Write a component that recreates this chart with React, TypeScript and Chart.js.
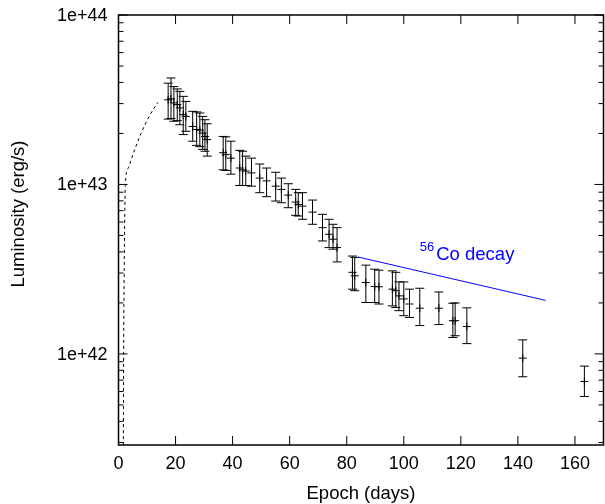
import React, { useEffect, useRef } from "react";
import { Chart, registerables } from "chart.js";

Chart.register(...registerables);

// ---- Data ----
const epoch = [
  17.4, 18.4, 19.4, 20.6, 21.5, 22.7, 23.6, 26.0, 27.4, 28.5, 29.5, 30.3, 31.1,
  36.7, 37.6, 39.4, 42.5, 43.5, 44.6, 46.6, 49.5, 51.9, 55.1, 57.1, 59.5, 62.1,
  63.0, 64.5, 68.0, 71.5, 73.8, 75.2, 76.6, 82.0, 82.8, 86.7, 89.8, 91.3, 96.0,
  97.2, 98.3, 100.0, 102.0, 105.6, 112.3, 117.2, 118.0, 122.1, 141.7, 163.3,
];
const lum = [
  3.16e43, 3.2e43, 3.03e43, 2.96e43, 2.83e43, 2.58e43, 2.52e43, 2.2e43, 2.11e43,
  2.09e43, 2.01e43, 1.92e43, 1.84e43, 1.54e43, 1.5e43, 1.43e43, 1.25e43, 1.22e43,
  1.2e43, 1.17e43, 1.09e43, 1.05e43, 9.77e42, 9.35e42, 8.65e42, 7.87e42, 7.62e42,
  7.45e42, 6.87e42, 5.56e42, 5.08e42, 4.75e42, 4.24e42, 3.03e42, 2.89e42, 2.64e42,
  2.5e42, 2.49e42, 2.41e42, 2.36e42, 2.2e42, 2.11e42, 1.97e42, 1.86e42, 1.86e42,
  1.57e42, 1.57e42, 1.45e42, 9.44e41, 6.87e41,
];
const lumLow = [
  2.43e43, 2.45e43, 2.36e43, 2.38e43, 2.25e43, 1.97e43, 2.06e43, 1.8e43, 1.7e43,
  1.67e43, 1.61e43, 1.57e43, 1.47e43, 1.22e43, 1.21e43, 1.15e43, 9.86e42, 9.86e42,
  9.86e42, 9.77e42, 8.94e42, 8.47e42, 7.98e42, 7.8e42, 7.29e42, 6.57e42, 6.51e42,
  6.23e42, 5.82e42, 4.64e42, 4.24e42, 4.15e42, 3.49e42, 2.41e42, 2.36e42, 2.01e42,
  2.01e42, 1.97e42, 1.92e42, 1.88e42, 1.8e42, 1.68e42, 1.64e42, 1.47e42, 1.49e42,
  1.25e42, 1.28e42, 1.15e42, 7.33e41, 5.61e41,
];
const lumHigh = [
  3.96e43, 4.25e43, 3.78e43, 3.66e43, 3.54e43, 3.31e43, 3.09e43, 2.7e43, 2.68e43,
  2.64e43, 2.52e43, 2.41e43, 2.28e43, 1.92e43, 1.91e43, 1.8e43, 1.59e43, 1.57e43,
  1.47e43, 1.43e43, 1.32e43, 1.25e43, 1.18e43, 1.09e43, 1.01e43, 9.35e42, 8.94e42,
  8.94e42, 8.09e42, 6.66e42, 6.23e42, 5.82e42, 5.56e42, 3.78e42, 3.71e42, 3.34e42,
  3.16e42, 3.12e42, 3.09e42, 3.03e42, 2.66e42, 2.66e42, 2.41e42, 2.44e42, 2.32e42,
  1.99e42, 2.0e42, 1.87e42, 1.21e42, 8.47e41,
];

// rising model curve (dashed)
const modelEpoch = [1.7, 1.8, 2.0, 2.4, 3.3, 5.4, 7.9, 10.9, 13.8];
const modelLum = [2.9e41, 1.0e42, 3.16e42, 1.0e43, 1.24e43, 1.56e43, 2.0e43, 2.55e43, 3.05e43];

// 56Co decay line
const coEpoch = [84.0, 149.7];
const coLum = [3.73e42, 2.07e42];
const coLabelEpoch = 105.6;
const coLabelLum = 3.57e42;

// axes
const xTicks = [0, 20, 40, 60, 80, 100, 120, 140, 160];
const yTicks = [1e42, 1e43, 1e44];
const yTickLabels = ["1e+42", "1e+43", "1e+44"];
const yMinorMult = [2, 3, 4, 5, 6, 7, 8, 9];
const xMin = 0;
const xMax = 170;
const yMin = 2.9e41;
const yMax = 1e44;

const FONT = "'Liberation Sans', Arial, Helvetica, sans-serif";

const overlay = {
  id: "overlay",
  beforeDatasetsDraw(chart: any) {
    const ctx = chart.ctx;
    const { left, right, top, bottom } = chart.chartArea;
    const xs = chart.scales.x;
    const ys = chart.scales.y;
    ctx.save();
    ctx.beginPath();
    ctx.rect(left, top, right - left, bottom - top);
    ctx.clip();
    ctx.strokeStyle = "#000";
    ctx.lineWidth = 1;
    ctx.beginPath();
    for (let i = 0; i < epoch.length; i++) {
      const px = xs.getPixelForValue(epoch[i]);
      const pl = ys.getPixelForValue(lumLow[i]);
      const ph = ys.getPixelForValue(lumHigh[i]);
      ctx.moveTo(px, pl);
      ctx.lineTo(px, ph);
      ctx.moveTo(px - 4.5, pl);
      ctx.lineTo(px + 4.5, pl);
      ctx.moveTo(px - 4.5, ph);
      ctx.lineTo(px + 4.5, ph);
    }
    ctx.stroke();
    ctx.restore();
  },
  afterDraw(chart: any) {
    const ctx = chart.ctx;
    const { left, right, top, bottom } = chart.chartArea;
    const xs = chart.scales.x;
    const ys = chart.scales.y;
    ctx.save();
    // ticks
    ctx.strokeStyle = "#000";
    ctx.lineWidth = 1;
    ctx.beginPath();
    xTicks.forEach((v) => {
      const px = xs.getPixelForValue(v);
      ctx.moveTo(px, bottom);
      ctx.lineTo(px, bottom - 9);
      ctx.moveTo(px, top);
      ctx.lineTo(px, top + 9);
    });
    for (let d = 41; d <= 44; d++) {
      const base = Math.pow(10, d);
      [1, ...yMinorMult].forEach((m) => {
        const v = m * base;
        if (v < yMin || v > yMax) return;
        const py = ys.getPixelForValue(v);
        const len = m === 1 ? 9 : 5;
        ctx.moveTo(left, py);
        ctx.lineTo(left + len, py);
        ctx.moveTo(right, py);
        ctx.lineTo(right - len, py);
      });
    }
    ctx.stroke();
    // border
    ctx.lineWidth = 1.5;
    ctx.strokeRect(left, top, right - left, bottom - top);

    // tick labels
    ctx.fillStyle = "#000";
    ctx.font = `18px ${FONT}`;
    ctx.textAlign = "center";
    ctx.textBaseline = "alphabetic";
    xTicks.forEach((v) => {
      ctx.fillText(String(v), xs.getPixelForValue(v), 469);
    });
    ctx.textAlign = "right";
    ctx.textBaseline = "middle";
    yTicks.forEach((v, i) => {
      ctx.fillText(yTickLabels[i], left - 11, ys.getPixelForValue(v) + 1);
    });

    // 56Co label
    const lx = xs.getPixelForValue(coLabelEpoch);
    const ly = ys.getPixelForValue(coLabelLum);
    ctx.fillStyle = "#0000ff";
    ctx.textBaseline = "alphabetic";
    ctx.textAlign = "left";
    ctx.font = `13px ${FONT}`;
    ctx.fillText("56", lx, ly - 9);
    const sw = ctx.measureText("56").width;
    ctx.font = `18.5px ${FONT}`;
    ctx.fillText("Co decay", lx + sw + 2, ly);

    // axis titles
    ctx.fillStyle = "#000";
    ctx.font = `18.5px ${FONT}`;
    ctx.textAlign = "center";
    ctx.fillText("Epoch (days)", (left + right) / 2, 499);
    ctx.translate(24, 214);
    ctx.rotate(-Math.PI / 2);
    ctx.fillText("Luminosity (erg/s)", 0, 0);
    ctx.restore();
  },
};

export default function App() {
  const ref = useRef<HTMLCanvasElement | null>(null);
  useEffect(() => {
    if (!ref.current) return;
    const chart = new Chart(ref.current, {
      type: "scatter",
      data: {
        datasets: [
          {
            data: epoch.map((x, i) => ({ x, y: lum[i] })),
            pointStyle: "cross",
            pointRadius: 4,
            pointBorderWidth: 1,
            borderColor: "#000",
            backgroundColor: "#000",
            showLine: false,
          },
          {
            data: modelEpoch.map((x, i) => ({ x, y: modelLum[i] })),
            showLine: true,
            borderColor: "#000",
            borderWidth: 1,
            borderDash: [3, 3],
            pointRadius: 0,
            cubicInterpolationMode: "monotone",
          },
          {
            data: coEpoch.map((x, i) => ({ x, y: coLum[i] })),
            showLine: true,
            borderColor: "#0000ff",
            borderWidth: 1,
            pointRadius: 0,
          },
        ],
      } as any,
      options: {
        animation: false,
        responsive: false,
        devicePixelRatio: 1,
        layout: { autoPadding: false, padding: { top: 15, right: 1.5, left: 118.5, bottom: 59 } },
        plugins: { legend: { display: false }, tooltip: { enabled: false } },
        scales: {
          x: { type: "linear", min: xMin, max: xMax, display: false },
          y: { type: "logarithmic", min: yMin, max: yMax, display: false },
        },
      } as any,
      plugins: [overlay],
    });
    return () => chart.destroy();
  }, []);
  return (
    <div style={{ position: "fixed", left: 0, top: 0, width: 605, height: 504, background: "#fff" }}>
      <canvas ref={ref} width={605} height={504} style={{ width: 605, height: 504, display: "block" }} />
    </div>
  );
}
